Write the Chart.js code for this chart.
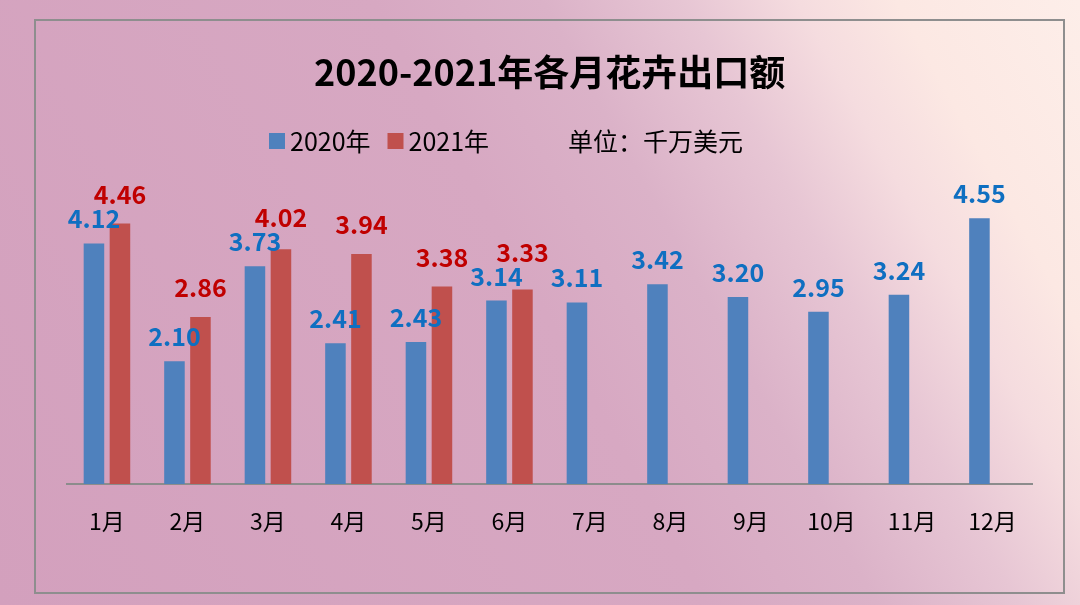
<!DOCTYPE html>
<html>
<head>
<meta charset="utf-8">
<script src="https://cdn.jsdelivr.net/npm/chart.js@4/dist/chart.umd.min.js"></script>
<style>
    html, body { margin: 0; padding: 0; }
    body {
        width: 1080px;
        height: 605px;
        overflow: hidden;
        background: linear-gradient(61deg, #d3a0bd 0%, #d7a8c2 50%, #dbb2c8 62%, #e7c6d4 72%, #f5dcdf 80%, #fce8e3 87%, #fdeee9 100%);
    }
    #wrap { position: relative; width: 1080px; height: 605px; }
</style>
</head>
<body>
<div id="wrap"><canvas id="myChart"></canvas></div>
<script>
const months = ['1月', '2月', '3月', '4月', '5月', '6月', '7月', '8月', '9月', '10月', '11月', '12月'];
const exports2020 = [4.12, 2.10, 3.73, 2.41, 2.43, 3.14, 3.11, 3.42, 3.20, 2.95, 3.24, 4.55];
const exports2021 = [4.46, 2.86, 4.02, 3.94, 3.38, 3.33, null, null, null, null, null, null];
const unitText = '单位：千万美元';

const cjk = '"Noto Sans CJK SC", "Noto Sans", sans-serif';

// frame around the whole chart + custom legend row
const framePlugin = {
    id: 'frame',
    beforeDraw(chart) {
        const ctx = chart.ctx;
        ctx.save();
        ctx.strokeStyle = '#8e8e8e';
        ctx.lineWidth = 2;
        ctx.strokeRect(35, 20, 1029, 573);
        ctx.restore();
    },
    afterDraw(chart) {
        const ctx = chart.ctx;
        ctx.save();
        ctx.font = '25px ' + cjk;
        ctx.textBaseline = 'middle';
        ctx.fillStyle = '#000';
        let x = 269;
        const y = 141;
        chart.data.datasets.forEach(ds => {
            ctx.fillStyle = ds.backgroundColor;
            ctx.fillRect(x, y - 8, 16, 16);
            ctx.fillStyle = '#000';
            ctx.fillText(ds.label, x + 21, y);
            x += 21 + ctx.measureText(ds.label).width + 17;
        });
        ctx.fillText(unitText, 568, y);
        ctx.restore();
    }
};

// value labels above the bars, red label pushed up if it hits the blue one
const valueLabels = {
    id: 'valueLabels',
    afterDatasetsDraw(chart) {
        const ctx = chart.ctx;
        const h = 18;
        ctx.save();
        ctx.font = 'bold 25px ' + cjk;
        ctx.textAlign = 'center';
        ctx.textBaseline = 'alphabetic';
        const placed = [];
        chart.data.datasets.forEach((ds, i) => {
            const meta = chart.getDatasetMeta(i);
            ctx.fillStyle = ds.labelColor;
            meta.data.forEach((bar, j) => {
                const v = ds.data[j];
                if (v == null) return;
                const txt = v.toFixed(2);
                const w = ctx.measureText(txt).width;
                let y = bar.y - ds.labelGap;
                const prev = placed[j];
                if (prev && Math.abs(prev.x - bar.x) < (prev.w + w) / 2 && y > prev.y - h - 6) {
                    y = prev.y - h - 6;
                }
                ctx.fillText(txt, bar.x, y);
                placed[j] = { x: bar.x, y: y, w: w };
            });
        });
        ctx.restore();
    }
};

var ctx = document.getElementById('myChart').getContext('2d');
// eslint-disable-next-line no-undef
new Chart(ctx, {
    type: 'bar',
    data: {
        labels: months,
        datasets: [{
            label: '2020年',
            data: exports2020,
            backgroundColor: '#4f81bd',
            labelColor: '#0f6fc1',
            labelGap: 15,
            categoryPercentage: 0.646,
            barPercentage: 0.79
        },
        {
            label: '2021年',
            data: exports2021,
            backgroundColor: '#c0504d',
            labelColor: '#c00000',
            labelGap: 20,
            categoryPercentage: 0.646,
            barPercentage: 0.79
        }]
    },
    options: {
        responsive: true,
        maintainAspectRatio: false,
        animation: false,
        layout: {
            padding: { top: 20, left: 66.7, right: 47.3, bottom: 12 }
        },
        plugins: {
            legend: { display: false },
            tooltip: { enabled: false },
            title: {
                display: true,
                text: '2020-2021年各月花卉出口额',
                color: '#000',
                font: { family: cjk, size: 36, weight: 'bold', lineHeight: 1.2 },
                padding: { top: 31, bottom: 97.8 }
            }
        },
        scales: {
            x: {
                grid: { display: false, drawTicks: false },
                border: { display: true, color: '#8c8c8c', width: 2 },
                ticks: {
                    color: '#000',
                    font: { family: cjk, size: 23 },
                    padding: 23
                },
                afterFit(scale) { scale.height = 109; }
            },
            y: {
                display: false,
                min: 0,
                max: 5
            }
        }
    },
    plugins: [framePlugin, valueLabels]
});
</script>
</body>
</html>
